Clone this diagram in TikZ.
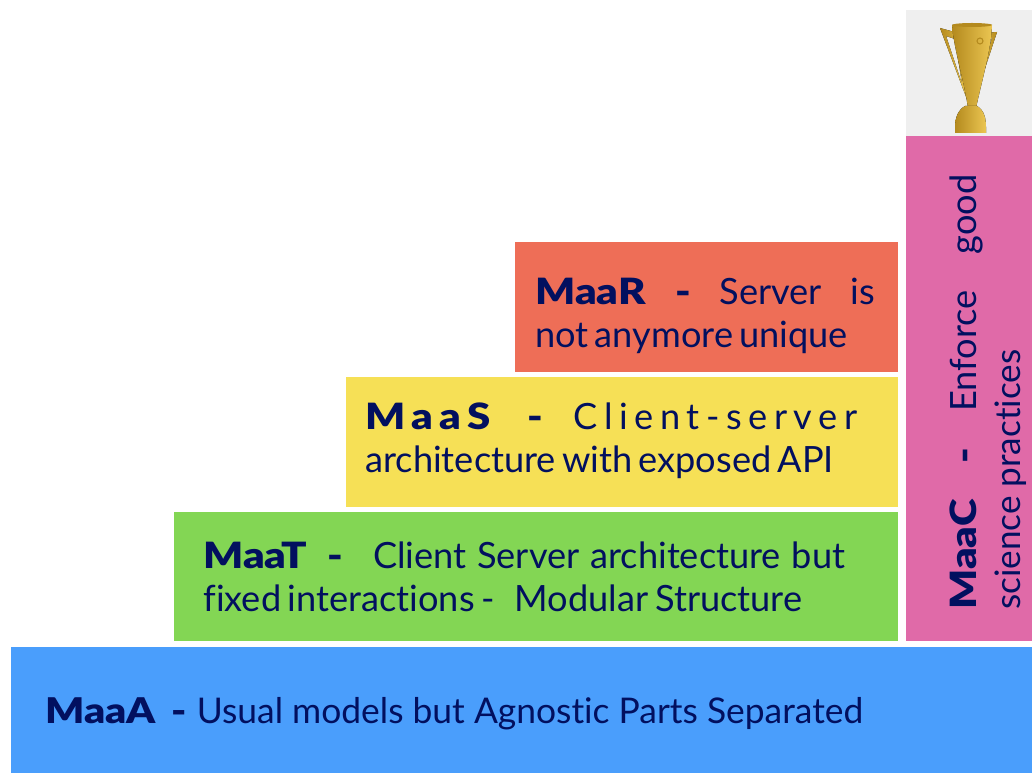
\documentclass[tikz,border=0pt]{standalone}
\usepackage{fontspec}
\setmainfont{Lato}[Ligatures=NoCommon,BoldFont={Lato Black},BoldFeatures={FakeStretch=1.16}]
\usetikzlibrary{positioning}
\definecolor{inkblue}{HTML}{02105F}
\definecolor{maarred}{HTML}{EE6E57}
\definecolor{maasyellow}{HTML}{F6E056}
\definecolor{maatgreen}{HTML}{83D654}
\definecolor{maaablue}{HTML}{4A9EFC}
\definecolor{maacpink}{HTML}{E06AA8}
\definecolor{trophybg}{HTML}{EFEFEF}
\definecolor{golddark}{HTML}{B48A1E}
\definecolor{goldlight}{HTML}{EBC652}
\newcommand{\fitline}[2]{\hbox to #1{#2}}
\newfontfamily\spaced{Lato}[LetterSpace=18,BoldFont={Lato Black},BoldFeatures={FakeStretch=1.16}]
\tikzset{
    stepbox/.style={fill=#1,draw=none,inner sep=0pt,anchor=north west},
    steptext/.style={text=inkblue,inner sep=0pt,anchor=base west,align=left,font=\fontsize{#1}{25}\selectfont},
    steptext/.default=20.6
}
\begin{document}
\begin{tikzpicture}[x=0.02cm,y=-0.02cm]
    \useasboundingbox (0,0) rectangle (1032,773);
    \node[stepbox=maaablue,minimum width=20.42cm,minimum height=2.52cm] (maaa) at (11,647) {};
    \node[stepbox=maatgreen,minimum width=14.48cm,minimum height=2.58cm] (maat) at (174,512) {};
    \node[stepbox=maasyellow,minimum width=11.04cm,minimum height=2.6cm] (maas) at (346,377) {};
    \node[stepbox=maarred,minimum width=7.66cm,minimum height=2.6cm] (maar) at (515,242) {};
    \node[stepbox=maacpink,minimum width=2.52cm,minimum height=10.1cm] (maac) at (906,136) {};
    \node[stepbox=trophybg,minimum width=2.52cm,minimum height=2.52cm] (cup) at (906,10) {};

    \node[steptext=20.15] (maatext) at (45,724) {\fitline{16.36cm}{\textbf{MaaA}\hspace{0.3cm}\textbf{-}\hfill Usual models but Agnostic Parts Separated}};
    \node[steptext] (maattext) at (203,612) {\fitline{12.84cm}{\textbf{MaaT}\hspace{0.4cm}\textbf{-}\hspace{0.6cm}Client Server architecture but}\\\fitline{11.98cm}{fixed interactions -\hspace{0.4cm}Modular Structure}};
    \node[steptext] (maastext) at (365,473) {\fitline{9.84cm}{{\spaced\textbf{MaaS}}\hfill\textbf{-}\hfill{\spaced Client-server}}\\\fitline{9.36cm}{architecture with exposed API}};
    \node[steptext] (maartext) at (535,348) {\fitline{6.8cm}{\textbf{MaaR}\hfill\textbf{-}\hfill Server\hfill is}\\\fitline{6.24cm}{not anymore unique}};
    \node[steptext,rotate=90] (maactext) at (1020,610) {\fitline{8.7cm}{\textbf{MaaC}\hfill\textbf{-}\hfill Enforce\hfill good}\\\fitline{5.2cm}{\fontsize{20}{25}\selectfont science practices}};

    \fill[left color=golddark,right color=goldlight,even odd rule] (940,28) -- (958,33) -- (968,102) -- cycle (946,36) -- (955,39) -- (962,84) -- cycle;
    \fill[left color=goldlight,right color=golddark,even odd rule] (997,32) -- (984,33) -- (974,102) -- cycle (992,38) -- (986,39) -- (978,82) -- cycle;
    \fill[left color=golddark,right color=goldlight] (952,25) -- (992,25) .. controls (991,50) and (982,80) .. (976,108) -- (968,108) .. controls (964,80) and (954,50) .. cycle;
    \fill[golddark] (972,25) ellipse (20 and 2);
    \draw[golddark,line width=0.6pt] (980,41) circle (3);
    \fill[left color=golddark,right color=goldlight] (965,106) -- (977,106) .. controls (984,110) and (986,118) .. (986,127) -- (986,133) -- (955,133) -- (955,127) .. controls (955,118) and (958,110) .. cycle;
\end{tikzpicture}
\end{document}
